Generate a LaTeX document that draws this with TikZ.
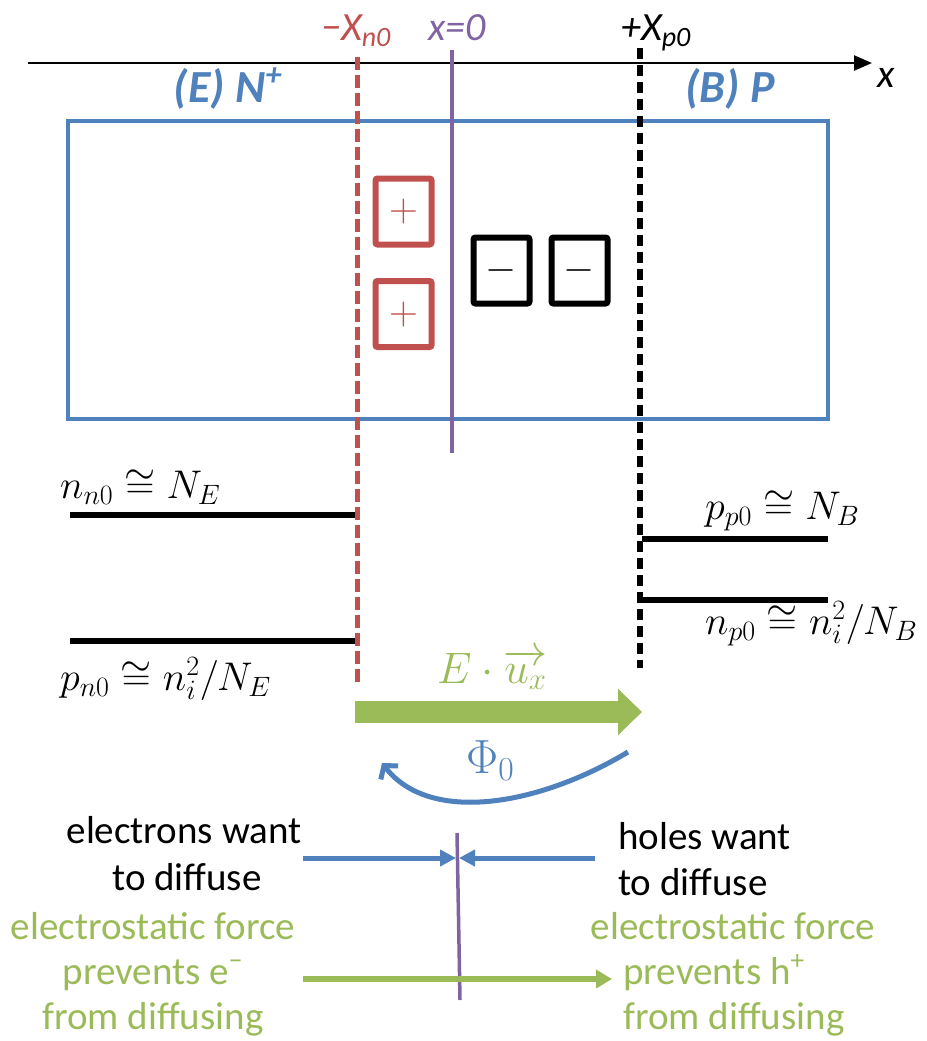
\RequirePackage{fix-cm}
\documentclass[tikz,border=0pt]{standalone}
\usepackage[no-math]{fontspec}
\setmainfont{Carlito}
\usetikzlibrary{arrows.meta}
\definecolor{cblue}{HTML}{4F81BD}
\definecolor{cred}{HTML}{C0504D}
\definecolor{cpurple}{HTML}{8064A2}
\definecolor{cgreen}{HTML}{9BBB59}
\begin{document}
\begin{tikzpicture}[x=1pt,y=-1pt,
  lbl/.style={inner sep=0pt, anchor=base},
  toplbl/.style={lbl, font=\itshape\fontsize{40}{48}\selectfont},
  region/.style={lbl, text=cblue, font=\bfseries\itshape\fontsize{46}{54}\selectfont},
  qbox/.style={draw, line width=6pt, rounded corners=2pt, minimum width=56pt, minimum height=66pt, inner sep=0pt, font=\fontsize{40}{46}\selectfont},
  conc/.style={inner sep=0pt, anchor=base west, font=\fontsize{40}{46}\selectfont},
  conline/.style={line width=5.5pt},
  txt/.style={inner sep=0pt, anchor=base, font=\fontsize{39}{46}\selectfont},
  gtxt/.style={txt, text=cgreen}]
\useasboundingbox (0,0) rectangle (926,1041);

% x axis
\coordinate (axL) at (28,63);
\coordinate (axR) at (872,63);
\draw[line width=2.4pt, -{Triangle[length=18pt,width=15pt]}] (axL) -- (axR);
\node[toplbl] (xlab) at (886,88) {x};

% device body
\node[draw=cblue, line width=4.5pt, minimum width=760pt, minimum height=298pt, inner sep=0pt] (body) at (448,270) {};
\node[region] (E) at (228,102) {(E) N\textsuperscript{+}};
\node[region] (B) at (730,102) {(B) P};

% vertical markers
\coordinate (rT) at (357,57); \coordinate (rB) at (357,685);
\draw[cred, line width=5pt, dash pattern=on 13pt off 5pt] (rT) -- (rB);
\coordinate (pT) at (452,50); \coordinate (pB) at (452,453);
\draw[cpurple, line width=4pt] (pT) -- (pB);
\coordinate (kT) at (640,48); \coordinate (kB) at (640,668);
\draw[black, line width=5.5pt, dash pattern=on 11pt off 6pt] (kT) -- (kB);

\node[toplbl, text=cred] (xn) at (356,41) {−X\textsubscript{n0}};
\node[toplbl, text=cpurple] (x0) at (457,41) {x=0};
\node[toplbl] (xp) at (656,41) {+X\textsubscript{p0}};

% charges
\node[qbox, draw=cred, text=cred] (p1) at (403.5,211.5) {$+$};
\node[qbox, draw=cred, text=cred] (p2) at (403.5,314) {$+$};
\node[qbox, draw=black] (m1) at (501.5,270.5) {$-$};
\node[qbox, draw=black] (m2) at (579.5,270.5) {$-$};

% concentration levels
\coordinate (l1a) at (70,515);  \coordinate (l1b) at (355,515);
\coordinate (l2a) at (70,641);  \coordinate (l2b) at (355,641);
\coordinate (r1a) at (642,539); \coordinate (r1b) at (828,539);
\coordinate (r2a) at (642,600); \coordinate (r2b) at (828,600);
\draw[conline] (l1a) -- (l1b);
\draw[conline] (l2a) -- (l2b);
\draw[conline] (r1a) -- (r1b);
\draw[conline] (r2a) -- (r2b);
\node[conc] (nn0) at (60,498) {$n_{n0}\cong N_E$};
\node[conc] (pn0) at (60,690) {$p_{n0}\cong n_i^2/N_E$};
\node[conc] (pp0) at (705,519) {$p_{p0}\cong N_B$};
\node[conc] (np0) at (705,634) {$n_{p0}\cong n_i^2/N_B$};

% field arrow
\coordinate (gL) at (355,712); \coordinate (gR) at (642,712);
\draw[cgreen, line width=22pt, -{Triangle[length=24pt,width=45pt]}] (gL) -- (gR);
\node[inner sep=0pt, anchor=base west, text=cgreen, font=\fontsize{44}{50}\selectfont] (Eux) at (437,683) {$E\cdot\overrightarrow{u_x}$};

% potential arrow
\coordinate (cS) at (628,752); \coordinate (cE) at (382,763);
\draw[cblue, line width=5pt, -{Straight Barb[length=9pt,width=22pt]}] (cS) .. controls (540,805) and (430,825) .. (cE);
\node[inner sep=0pt, anchor=base west, text=cblue, font=\fontsize{48}{54}\selectfont] (phi) at (466,773) {$\Phi_0$};

% bottom balance
\coordinate (vT) at (457,833); \coordinate (vB) at (460,1000);
\draw[cpurple, line width=3.5pt] (vT) -- (vB);
\coordinate (bL) at (303,858); \coordinate (bLt) at (456,858);
\coordinate (bR) at (595,858); \coordinate (bRt) at (459,858);
\draw[cblue, line width=5pt, -{Triangle[length=16pt,width=16pt]}] (bL) -- (bLt);
\draw[cblue, line width=5pt, -{Triangle[length=16pt,width=16pt]}] (bR) -- (bRt);
\coordinate (gbL) at (303,979); \coordinate (gbR) at (612,979);
\draw[cgreen, line width=6pt, -{Triangle[length=16pt,width=18pt]}] (gbL) -- (gbR);

\node[txt] (ew1) at (184,843) {electrons want};
\node[txt] (ew2) at (187,890) {to diffuse};
\node[txt, anchor=base west] (hw1) at (618,849) {holes want};
\node[txt, anchor=base west] (hw2) at (618,895) {to diffuse};
\node[gtxt] (gl1) at (153,939) {electrostatic force};
\node[gtxt] (gl2) at (153,984) {prevents e\textsuperscript{−}};
\node[gtxt] (gl3) at (153,1029) {from diffusing};
\node[gtxt] (gr1) at (733,939) {electrostatic force};
\node[gtxt] (gr2) at (714,984) {prevents h\textsuperscript{+}};
\node[gtxt] (gr3) at (734,1029) {from diffusing};
\end{tikzpicture}
\end{document}
